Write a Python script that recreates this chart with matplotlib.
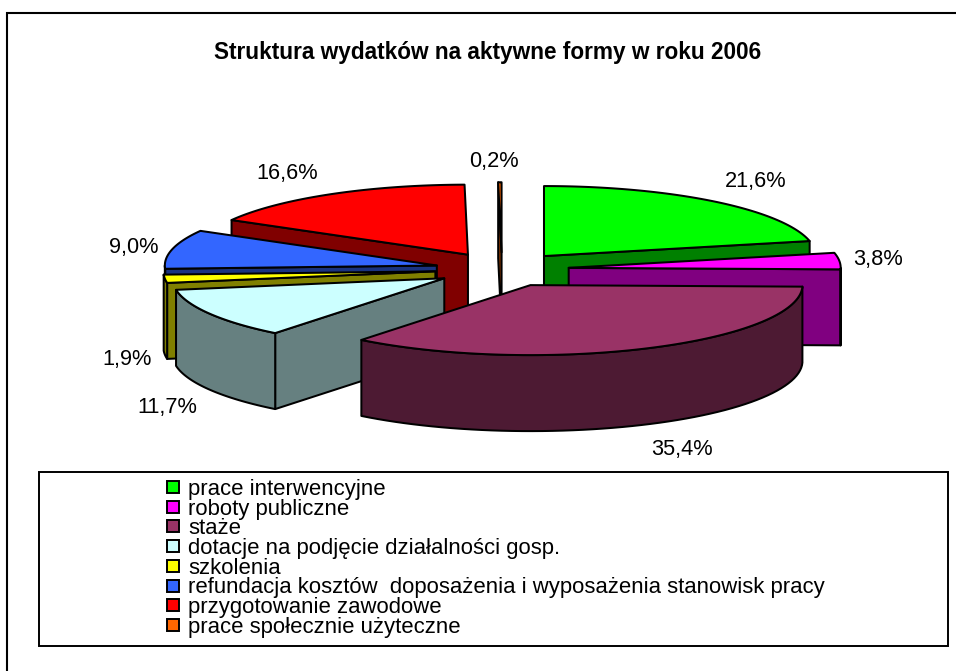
import matplotlib

matplotlib.use("Agg")
import matplotlib.pyplot as plt
import numpy as np
from matplotlib.patches import Polygon, Rectangle

plt.rcParams["font.family"] = ["Liberation Sans", "DejaVu Sans"]

TITLE = "Struktura wydatków na aktywne formy w roku 2006"

categories = [
    "prace interwencyjne",
    "roboty publiczne",
    "staże",
    "dotacje na podjęcie działalności gosp.",
    "szkolenia",
    "refundacja kosztów  doposażenia i wyposażenia stanowisk pracy",
    "przygotowanie zawodowe",
    "prace społecznie użyteczne",
]
shares = [21.6, 3.8, 35.4, 11.7, 1.9, 9.0, 16.6, 0.2]
colors = ["#00FF00", "#FF00FF", "#993366", "#CCFFFF", "#FFFF00", "#3366FF", "#FF0000", "#FF6600"]

# pie geometry, pixels
CX, CY = 502, 269.5
RX, RY = 272, 70
DEPTH = 76
EXPLODE = 67
LW = 1.45

# back to front
draw_order = [7, 0, 6, 5, 1, 4, 3, 2]
label_pos = [
    (756, 181), (878, 260), (682, 450), (167, 408),
    (127, 360), (134, 248), (287, 174), (494, 162),
]


def rim(angles, ax0, ay0):
    # angles are degrees clockwise from 12 o'clock
    a = np.radians(angles)
    return np.column_stack([ax0 + RX * np.sin(a), ay0 - RY * np.cos(a)])


def darker(c):
    rgb = np.array(matplotlib.colors.to_rgb(c)) * 0.5
    return tuple(rgb)


def add_poly(ax, pts, color):
    ax.add_patch(Polygon(pts, closed=True, fc=color, ec="black", lw=LW, joinstyle="round"))


def draw_slice(ax, start, end, color):
    mid = np.radians((start + end) / 2)
    ax0 = CX + EXPLODE * np.sin(mid)
    ay0 = CY - EXPLODE * RY / RX * np.cos(mid)
    apex = np.array([ax0, ay0])
    down = np.array([0, DEPTH])
    side = darker(color)

    # cut faces, only the ones turned to the viewer
    faces = []
    if np.sin(np.radians(start)) < 0:
        faces.append(start)
    if np.sin(np.radians(end)) > 0:
        faces.append(end)
    for ang in faces:
        p = rim(np.array([ang]), ax0, ay0)[0]
        add_poly(ax, [apex, p, p + down, apex + down], side)

    # outer wall, front half only
    lo, hi = max(start, 90), min(end, 270)
    if hi > lo:
        arc = rim(np.linspace(lo, hi, 60), ax0, ay0)
        add_poly(ax, np.vstack([arc, arc[::-1] + down]), side)

    arc = rim(np.linspace(start, end, 80), ax0, ay0)
    add_poly(ax, np.vstack([apex, arc]), color)


def main():
    fig = plt.figure(figsize=(9.56, 6.71), dpi=100)
    ax = fig.add_axes([0, 0, 1, 1])
    ax.set_xlim(0, 956)
    ax.set_ylim(671, 0)
    ax.axis("off")

    # chart border shows only on the top and left
    ax.plot([7, 7, 956], [671, 13, 13], color="black", lw=1.5, solid_joinstyle="miter")
    ax.text(488, 52, TITLE, fontsize=16.3, fontweight="bold", ha="center", va="center")

    edges = np.cumsum([0] + shares) / sum(shares) * 360
    for i in draw_order:
        draw_slice(ax, edges[i], edges[i + 1], colors[i])

    for v, (x, y) in zip(shares, label_pos):
        ax.text(x, y, f"{v:.1f}%".replace(".", ","), fontsize=15.7, ha="center", va="center")

    # legend
    ax.add_patch(Rectangle((39.5, 471.5), 909, 174, fc="white", ec="black", lw=1.4))
    for i, (name, c) in enumerate(zip(categories, colors)):
        y = 487 + i * 19.7
        ax.add_patch(Rectangle((167.5, y - 6), 12, 12, fc=c, ec="black", lw=1.4))
        ax.text(188, y, name, fontsize=15.9, ha="left", va="center_baseline")

    fig.savefig("out.png", dpi=100)


if __name__ == "__main__":
    main()
